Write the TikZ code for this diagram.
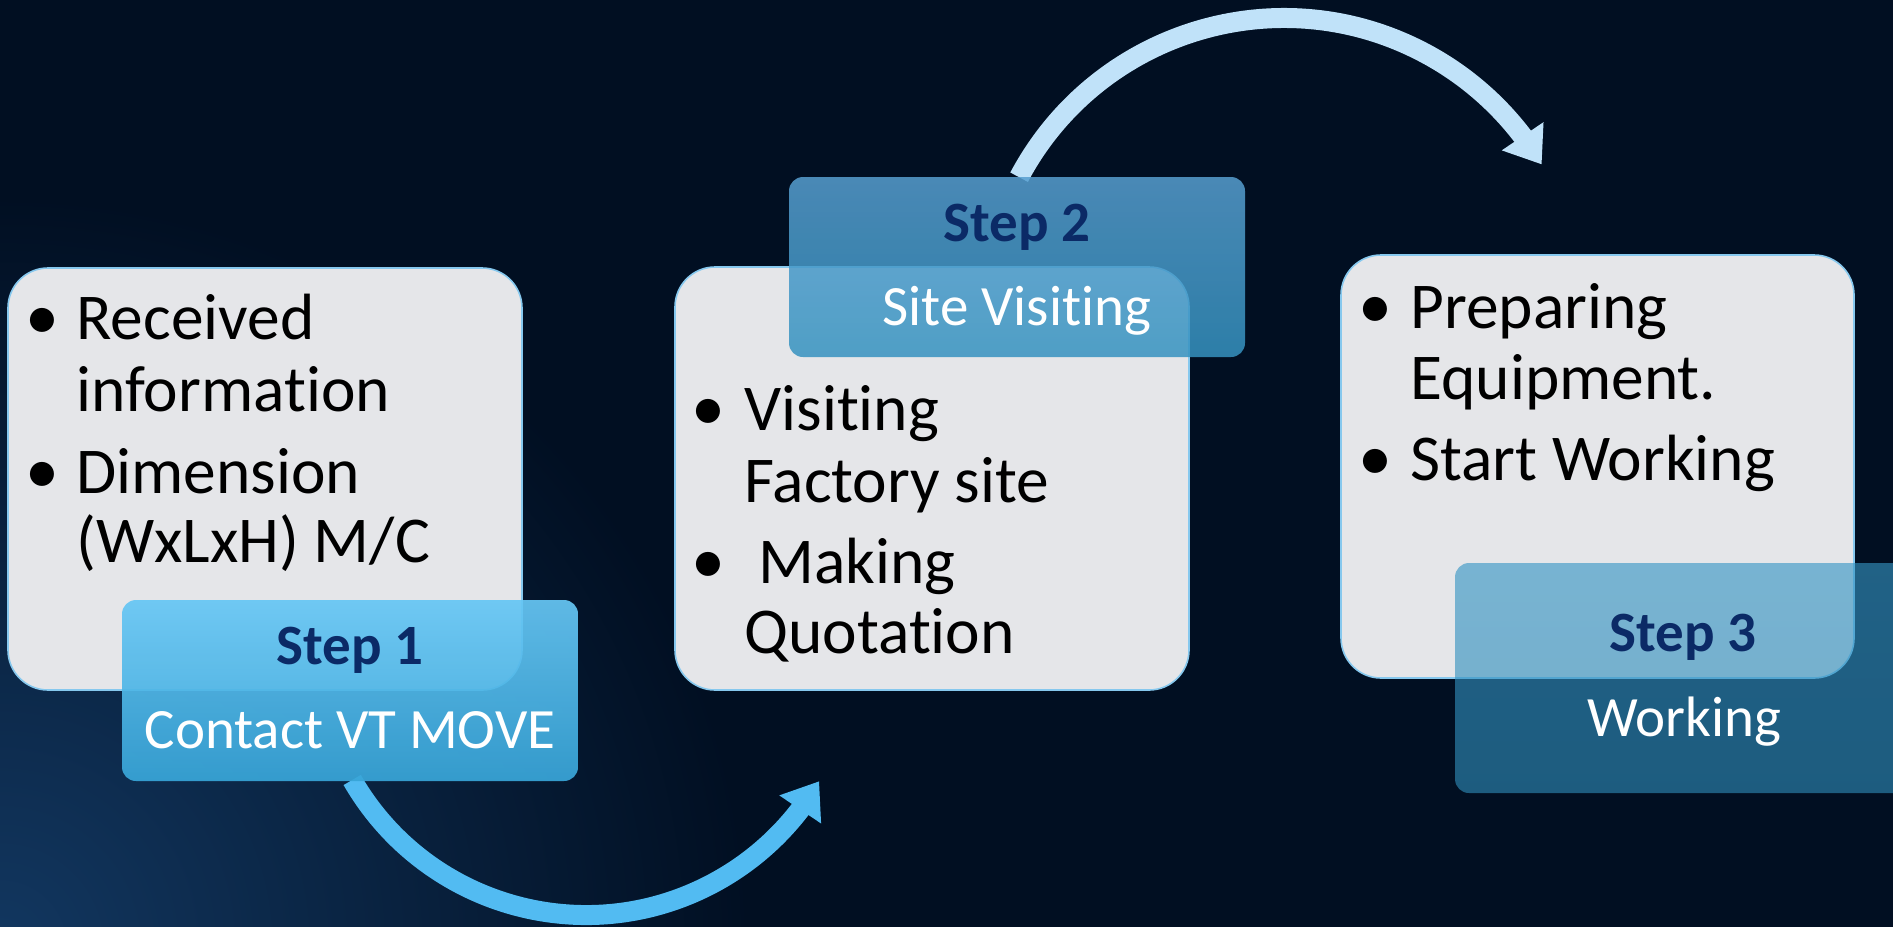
\documentclass[tikz,border=0pt]{standalone}
\usepackage{fontspec}
\setmainfont{Carlito}[Ligatures=NoCommon]
\usetikzlibrary{arrows.meta,bending}
\definecolor{bgcol}{HTML}{010F22}
\definecolor{glowcol}{HTML}{123760}
\definecolor{greyfill}{HTML}{E5E6E9}
\definecolor{greyedge}{HTML}{86C8EE}
\definecolor{sOneTop}{HTML}{66C6F4}
\definecolor{sOneBot}{HTML}{38A5D8}
\definecolor{sTwoTop}{HTML}{579FD0}
\definecolor{sTwoBot}{HTML}{3592C0}
\definecolor{sThreeTop}{HTML}{3595C4}
\definecolor{sThreeBot}{HTML}{2F8CB9}
\definecolor{navy}{HTML}{0B2A66}
\definecolor{arrowA}{HTML}{52BBF2}
\definecolor{arrowB}{HTML}{C0E2F9}
\tikzset{
  greybox/.style={draw=greyedge, line width=0.8pt, fill=greyfill, rounded corners=20pt, inner sep=0pt},
  stepbox/.style={draw=none, rounded corners=7pt, inner sep=0pt, minimum width=228pt},
  bodytxt/.style={inner sep=0pt, anchor=base west, text=black, font=\fontsize{32.7pt}{36pt}\selectfont},
  bul/.style={inner sep=0pt, anchor=base, text=black, font=\fontsize{34pt}{36pt}\selectfont},
  steplbl/.style={inner sep=0pt, anchor=base, text=navy, font=\fontsize{28.5pt}{34pt}\selectfont\bfseries},
  steptxt/.style={inner sep=0pt, anchor=base, text=white, font=\fontsize{28.5pt}{34pt}\selectfont},
  arcA/.style={line width=10pt, draw=arrowA, -{Triangle[length=17pt, width=24pt, flex]}},
  arcB/.style={line width=10pt, draw=arrowB, -{Triangle[length=17pt, width=24pt, flex]}}
}
\begin{document}
\begin{tikzpicture}[x=0.5pt, y=-0.5pt]
\useasboundingbox (0,0) rectangle (1893,926);
\fill[bgcol] (-20,-20) rectangle (1913,946);
\begin{scope}
  \clip (-20,-20) rectangle (1913,946);
  \shade[inner color=glowcol, outer color=bgcol] (0,946) circle (750);
\end{scope}

% connectors
\coordinate (a1s) at (352.2,780);
\draw[arcA] (a1s) arc[start angle=150, end angle=30.3, radius=270];
\coordinate (a2s) at (1019.1,177.2);
\draw[arcB] (a2s) arc[start angle=208, end angle=329.2, radius=300];

% grey boxes
\node[greybox, minimum width=257pt, minimum height=211pt] (b1) at (265,479) {};
\node[greybox, minimum width=257pt, minimum height=211.5pt] (b2) at (932,478.5) {};
\node[greybox, minimum width=256.5pt, minimum height=211.5pt] (b3) at (1597.5,466.5) {};

% step boxes
\node[stepbox, top color=sOneTop, bottom color=sOneBot, fill opacity=0.93, minimum height=90.5pt] (s1) at (350,690.5) {};
\node[stepbox, top color=sTwoTop, bottom color=sTwoBot, fill opacity=0.85, minimum height=90pt] (s2) at (1017,267) {};
\node[stepbox, top color=sThreeTop, bottom color=sThreeBot, fill opacity=0.62, minimum height=115pt] (s3) at (1683,678) {};

% box 1 text
\node[bul] (b1p1) at (42,339) {\textbullet};
\node[bodytxt] (b1t1) at (76,339) {Received};
\node[bodytxt] (b1t2) at (76,411) {information};
\node[bul] (b1p2) at (42,493) {\textbullet};
\node[bodytxt] (b1t3) at (76,493) {Dimension};
\node[bodytxt] (b1t4) at (76,562) {(WxLxH) M/C};

% box 2 text
\node[bul] (b2p1) at (708,430) {\textbullet};
\node[bodytxt] (b2t1) at (744,430) {Visiting};
\node[bodytxt] (b2t2) at (744,502) {Factory site};
\node[bul] (b2p2) at (708,583) {\textbullet};
\node[bodytxt] (b2t3) at (758,583) {Making};
\node[bodytxt] (b2t4) at (744,653) {Quotation};

% box 3 text
\node[bul] (b3p1) at (1375,328) {\textbullet};
\node[bodytxt] (b3t1) at (1410,328) {Preparing};
\node[bodytxt] (b3t2) at (1410,399) {Equipment.};
\node[bul] (b3p2) at (1375,480) {\textbullet};
\node[bodytxt] (b3t3) at (1410,480) {Start Working};

% step labels
\node[steplbl] (s1h) at (350,664) {Step 1};
\node[steptxt] (s1t) at (350,748) {Contact VT MOVE};
\node[steplbl] (s2h) at (1017,241) {Step 2};
\node[steptxt] (s2t) at (1017,325) {Site Visiting};
\node[steplbl] (s3h) at (1683,651) {Step 3};
\node[steptxt] (s3t) at (1684,736) {Working};
\end{tikzpicture}
\end{document}
